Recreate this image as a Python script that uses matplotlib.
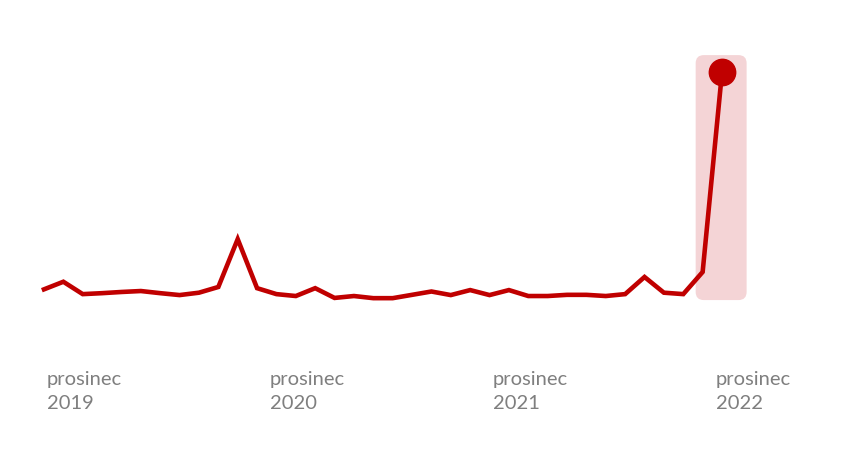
import matplotlib.pyplot as plt
from matplotlib.patches import FancyBboxPatch

# monthly values, prosinec 2019 .. listopad 2022
values = [8.7, 11.9, 6.7, 7.1, 7.6, 8.0, 7.1, 6.3, 7.3, 9.7, 29.8, 9.2,
          6.7, 5.9, 9.2, 5.1, 5.9, 5.0, 5.0, 6.4, 7.8, 6.3, 8.4, 6.3,
          8.4, 5.9, 5.9, 6.4, 6.4, 5.9, 6.7, 13.9, 7.3, 6.7, 16.0, 100.0]
tick_pos = [0.15, 11.67, 23.18, 34.69]
tick_labels = ["prosinec\n2019", "prosinec\n2020", "prosinec\n2021", "prosinec\n2022"]

red = "#C00000"
grey = "#7F7F7F"

fig = plt.figure(figsize=(8.46, 4.51), dpi=100)
ax = fig.add_axes([0, 0, 1, 1])
ax.set_xlim(-2.27, 41.4)
ax.set_ylim(-59.2, 130.25)
ax.axis("off")

x = list(range(len(values)))
last = x[-1]

# highlight box behind the last point
box = FancyBboxPatch((last - 1.36, 4.2), 2.63, values[-1] + 7.1 - 4.2,
                     boxstyle="round,pad=0,rounding_size=0.42",
                     mutation_aspect=8.14, facecolor="#F4D4D6",
                     edgecolor="none", zorder=1)
ax.add_patch(box)

ax.plot(x, values, color=red, lw=3.3, solid_joinstyle="miter", zorder=2)
ax.plot(last, values[-1], "o", color=red, ms=19, zorder=3)

for pos, lab in zip(tick_pos, tick_labels):
    ax.text(pos, -25.5, lab, ha="left", va="top", color=grey,
            fontsize=14.5, family="Lato", linespacing=1.5)

fig.savefig("out.png", dpi=100)
